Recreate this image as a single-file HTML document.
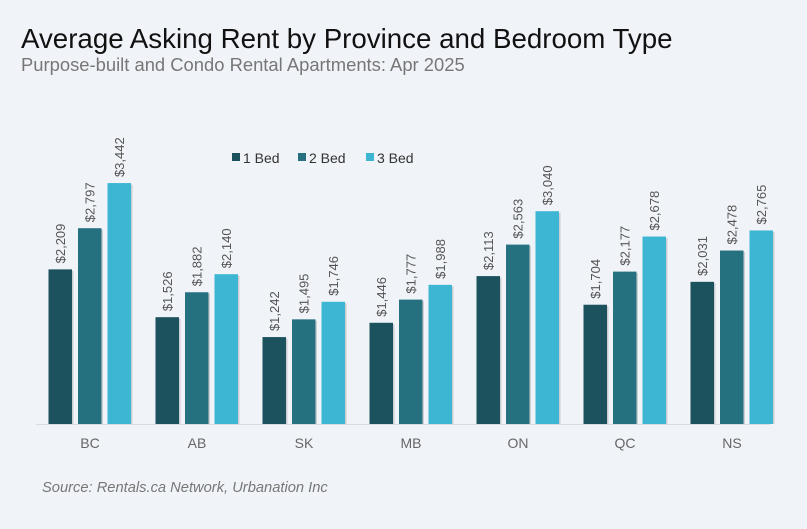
<!DOCTYPE html><html><head><style>body{margin:0;background:#f0f3f8}svg{display:block}</style></head><body>
<svg width="807" height="529" xmlns="http://www.w3.org/2000/svg" font-family="Liberation Sans, sans-serif">
<rect width="807" height="529" fill="#f0f3f8"/>
<text x="21" y="48" font-size="27.7" fill="#111">Average Asking Rent by Province and Bedroom Type</text>
<text x="21" y="71" font-size="18.4" fill="#777">Purpose-built and Condo Rental Apartments: Apr 2025</text>
<rect x="232" y="153" width="8" height="8" fill="#1c525e"/><text x="243" y="163" font-size="14" fill="#333">1 Bed</text>
<rect x="298" y="153" width="8" height="8" fill="#25717f"/><text x="309" y="163" font-size="14" fill="#333">2 Bed</text>
<rect x="366" y="153" width="8" height="8" fill="#3cb6d3"/><text x="377" y="163" font-size="14" fill="#333">3 Bed</text>
<line x1="36" y1="424.5" x2="770" y2="424.5" stroke="#d8dbe0"/>
<g id="bars"></g>
<text x="42" y="492" font-size="14.7" font-style="italic" fill="#777">Source: Rentals.ca Network, Urbanation Inc</text>
</svg>
<script>
const d=[["BC",2209,2797,3442],["AB",1526,1882,2140],["SK",1242,1495,1746],["MB",1446,1777,1988],["ON",2113,2563,3040],["QC",1704,2177,2678],["NS",2031,2478,2765]];
const c=["#1c525e","#25717f","#3cb6d3"];let s="";
d.forEach((g,i)=>{const x0=48.5+i*107;
for(let j=0;j<3;j++){const v=g[j+1],h=v*0.07,x=x0+j*29.5,y=424-h;
s+=`<rect x="${x+1.5}" y="${y+1.5}" width="23.5" height="${h-1.5}" fill="#000" opacity="0.15"/>`;
s+=`<rect x="${x}" y="${y}" width="23.5" height="${h}" fill="${c[j]}"/>`;
s+=`<text transform="translate(${x+16.5},${y-6}) rotate(-90)" font-size="13" fill="#555">$${v.toLocaleString('en-US')}</text>`;}
s+=`<text x="${x0+41.5}" y="448" font-size="14" fill="#666" text-anchor="middle">${g[0]}</text>`;});
document.getElementById("bars").innerHTML=s;
</script>
</body></html>
